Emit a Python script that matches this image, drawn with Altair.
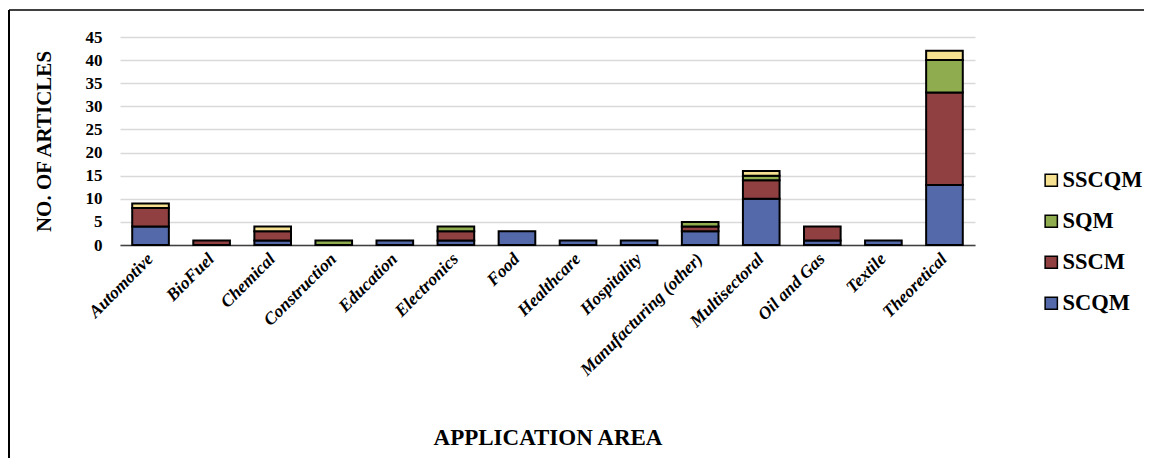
import altair as alt
import pandas as pd

areas = ["Automotive", "BioFuel", "Chemical", "Construction", "Education", "Electronics",
         "Food", "Healthcare", "Hospitality", "Manufacturing (other)", "Multisectoral",
         "Oil and Gas", "Textile", "Theoretical"]
scqm  = [4, 0, 1, 0, 1, 1, 3, 1, 1, 3, 10, 1, 1, 13]
sscm  = [4, 1, 2, 0, 0, 2, 0, 0, 0, 1, 4, 3, 0, 20]
sqm   = [0, 0, 0, 1, 0, 1, 0, 0, 0, 1, 1, 0, 0, 7]
sscqm = [1, 0, 1, 0, 0, 0, 0, 0, 0, 0, 1, 0, 0, 2]

series = ["SCQM", "SSCM", "SQM", "SSCQM"]
colors = {"SCQM": "#5469AA", "SSCM": "#904040", "SQM": "#8FAC4F", "SSCQM": "#F5E190"}

rows = []
for i, s in enumerate(series):
    vals = [scqm, sscm, sqm, sscqm][i]
    for a, v in zip(areas, vals):
        if v > 0:
            rows.append({"area": a, "series": s, "value": v, "idx": i})
df = pd.DataFrame(rows)

W, H = 855, 208
FONT = "Liberation Serif"
legend_order = ["SSCQM", "SQM", "SSCM", "SCQM"]

bars = alt.Chart(df).mark_bar(stroke="black", strokeWidth=2).encode(
    x=alt.X("area:N", sort=areas,
            scale=alt.Scale(paddingInner=0.4, paddingOuter=0.2),
            axis=alt.Axis(title="APPLICATION AREA", labelAngle=-45, labelFontStyle="italic",
                          labelFontWeight="bold", labelFontSize=17.5, labelFont=FONT,
                          labelColor="black", ticks=False, domainColor="#404040",
                          domainWidth=1.5, labelPadding=11, titleFont=FONT,
                          titleFontSize=23, titleFontWeight="bold", titleColor="black",
                          titlePadding=48, labelAlign="right", labelBaseline="middle")),
    y=alt.Y("value:Q", stack="zero",
            scale=alt.Scale(domain=[0, 45], nice=False),
            axis=alt.Axis(title="NO. OF ARTICLES", values=list(range(0, 50, 5)),
                          domain=False, ticks=False, gridColor="#D9D9D9", gridWidth=1.5,
                          labelFont=FONT, labelFontSize=17, labelFontWeight="bold",
                          labelColor="black", labelPadding=18, titleFont=FONT,
                          titleFontSize=21, titleFontWeight="bold", titleColor="black",
                          titlePadding=31)),
    color=alt.Color("series:N",
                    scale=alt.Scale(domain=legend_order,
                                    range=[colors[s] for s in legend_order]),
                    legend=alt.Legend(title=None, orient="none", legendX=920, legendY=132,
                                      symbolType="square", symbolSize=150,
                                      symbolStrokeColor="black", symbolStrokeWidth=1.5,
                                      labelFont=FONT, labelFontSize=22.5,
                                      labelFontWeight="bold", labelColor="black",
                                      rowPadding=18, labelOffset=0)),
    order=alt.Order("idx:Q", sort="ascending"),
)

frame_data = alt.Data(values=[{}])
top_line = alt.Chart(frame_data).mark_rule(stroke="black", strokeWidth=1.5).encode(
    x=alt.value(-111), x2=alt.value(W + 250), y=alt.value(-27)
)
left_line = alt.Chart(frame_data).mark_rule(stroke="black", strokeWidth=2).encode(
    x=alt.value(-111), y=alt.value(-27), y2=alt.value(H + 300)
)

chart = alt.layer(top_line, left_line, bars).properties(
    width=W, height=H,
    autosize=alt.AutoSizeParams(type="none"),
    padding={"left": 112, "top": 29, "right": 169, "bottom": 213},
).configure_view(stroke=None)

chart.save("out.html", embed_options={"renderer": "svg", "actions": False})
